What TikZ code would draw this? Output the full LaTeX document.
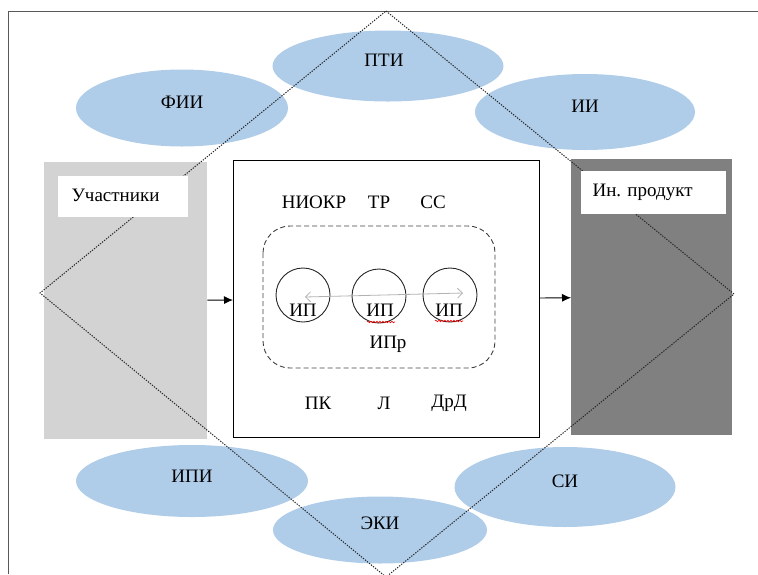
\documentclass[tikz,border=0pt]{standalone}
\usepackage{fontspec}
\setmainfont{Liberation Serif}
\newfontfamily\diagserif{Liberation Serif}
\usepackage{tikz}
\usetikzlibrary{shapes,arrows.meta,positioning,decorations.pathmorphing}

\definecolor{ovalblue}{RGB}{175,204,233}
\definecolor{lightgrey}{RGB}{211,211,211}
\definecolor{darkgrey}{RGB}{128,128,128}

\begin{document}
\begin{tikzpicture}[x=1pt,y=-1pt,
        font=\diagserif\fontsize{19}{22}\selectfont,
        oval/.style={ellipse, fill=ovalblue, inner sep=0pt},
        panel/.style={rectangle, inner sep=0pt, anchor=north west},
        whitebox/.style={rectangle, fill=white, inner sep=0pt, anchor=north west},
        ipc/.style={circle, draw=black!85, line width=0.9pt, minimum size=54pt, inner sep=0pt},
        spell/.style={red, line width=0.6pt, decorate, decoration={snake, segment length=3pt, amplitude=0.8pt}},
        link/.style={-{Latex[length=9pt,width=8pt]}, line width=0.9pt}]
            \useasboundingbox (0,0) rectangle (758,574);
            \draw[black!65, line width=1pt] (8.5,574) -- (8.5,11) -- (758,11);

            % ellipses
            \node[oval, minimum width=231pt, minimum height=71pt] (pti) at (388,66) {};
            \node[oval, minimum width=212pt, minimum height=77pt] (fii) at (182,108) {};
            \node[oval, minimum width=220pt, minimum height=76pt] (ii) at (585,112) {};
            \node[oval, minimum width=232pt, minimum height=72pt] (ipi) at (192,481) {};
            \node[oval, minimum width=221pt, minimum height=80pt] (si) at (565,487) {};
            \node[oval, minimum width=214pt, minimum height=67pt] (eki) at (380,530) {};

            % side panels and core
            \node[panel, fill=lightgrey, minimum width=163pt, minimum height=277pt] (uch) at (44,162) {};
            \node[panel, fill=darkgrey, minimum width=161pt, minimum height=276pt] (prod) at (571,159) {};
            \node[panel, draw=black, line width=1.1pt, minimum width=306pt, minimum height=277pt] (core) at (233,160) {};

            % dotted diamond
            \draw[black!85, dash pattern=on 1.3pt off 1.3pt, line width=1pt] (386,11) -- (734,294) -- (386,577) -- (40,293) -- cycle;

            \node[whitebox, minimum width=130pt, minimum height=41pt] (uchbox) at (58,176) {};
            \node[whitebox, minimum width=145pt, minimum height=43pt] (prodbox) at (581,171) {};
            \node[anchor=west] (uchtxt) at (68,195) {Участники};
            \node[anchor=west] (prodtxt) at (589,192) {Ин. продукт};

            \node (ptitxt) at (384,60) {ПТИ};
            \node (fiitxt) at (182,102) {ФИИ};
            \node (iitxt) at (585,106) {ИИ};
            \node (ipitxt) at (192,476) {ИПИ};
            \node (situxt) at (565,481) {СИ};
            \node (ekitxt) at (380,523) {ЭКИ};

            \node (niokr) at (314,202) {НИОКР};
            \node (tr) at (379,202) {ТР};
            \node (ss) at (433,202) {СС};
            \node (pk) at (318,403) {ПК};
            \node (l) at (384,403) {Л};
            \node (drd) at (449,403) {ДрД};

            % process
            \draw[black!75, dash pattern=on 5pt off 3pt, line width=0.9pt, rounded corners=27pt] (263,226) rectangle (495,368);
            \node[ipc] (ip1) at (303,295) {};
            \node[ipc] (ip2) at (379,296) {};
            \node[ipc] (ip3) at (450,295) {};
            \node (ip1t) at (303,310) {ИП};
            \node (ip2t) at (380,310) {ИП};
            \node (ip3t) at (449,310) {ИП};
            \node (ipr) at (388,344) {ИПр};
            \draw[black!30, line width=0.8pt, {Straight Barb[length=5pt,width=10pt]}-{Straight Barb[length=5pt,width=10pt]}] ([xshift=2pt,yshift=-2pt]ip1.center) -- ([xshift=13pt,yshift=2pt]ip3.center);
            \draw[spell] (367,322) -- (395,322);
            \draw[spell] (435,321) -- (463,321);

            \draw[link] (uch) -- (core);
            \draw[link] (core) -- (prod);
        \end{tikzpicture}
\end{document}
